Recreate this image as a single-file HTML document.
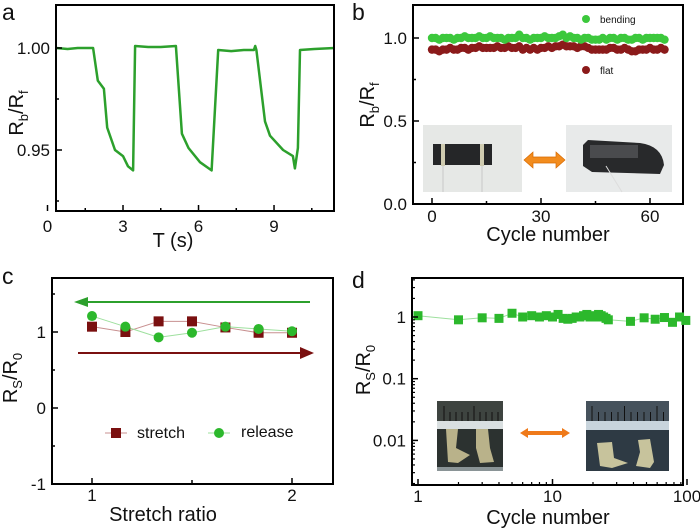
<!DOCTYPE html>
<html><head><meta charset="utf-8"><style>
body{margin:0;background:#fff;}
svg{display:block;font-family:"Liberation Sans",Arial,sans-serif;}
</style></head><body>
<svg id="fig" width="700" height="529" viewBox="0 0 700 529" xmlns="http://www.w3.org/2000/svg"></svg>
<script>
// ---- Panel a data ----
const aTime=[0.34,0.8,1.2,1.6,1.81,2.0,2.24,2.37,2.68,3.0,3.2,3.4,3.48,4.0,4.5,5.1,5.34,5.6,6.06,6.52,6.78,7.3,7.8,8.2,8.25,8.3,8.64,8.84,9.36,9.75,9.83,9.95,10.03,10.6,11.4];
const aVal=[1.0,0.9995,1.0,1.0,1.0,0.984,0.980,0.961,0.950,0.947,0.942,0.940,1.001,1.0005,1.0005,1.001,0.958,0.951,0.944,0.940,0.999,0.9985,0.999,0.999,1.001,0.999,0.964,0.957,0.950,0.947,0.941,0.951,0.999,0.9995,1.0];
const aXTicks=[0,3,6,9];
const aYTicks=[0.95,1.00];
// ---- Panel b data ----
const bCycles=[0,1,2,3,4,5,6,7,8,9,10,11,12,13,14,15,16,17,18,19,20,21,22,23,24,25,26,27,28,29,30,31,32,33,34,35,36,37,38,39,40,41,42,43,44,45,46,47,48,49,50,51,52,53,54,55,56,57,58,59,60,61,62,63,64];
const bBending=[1.0,1.0,0.99,1.0,1.0,1.0,0.99,1.0,1.0,1.01,1.0,1.0,1.0,1.01,1.0,1.0,1.01,1.0,1.0,1.0,0.99,1.0,1.0,1.0,1.02,1.0,1.0,0.99,1.0,1.0,1.0,1.01,1.0,1.0,1.0,1.01,1.02,1.0,1.01,1.0,1.0,0.99,1.0,1.0,0.99,0.99,0.99,1.0,0.99,1.0,1.0,0.99,1.0,1.0,0.99,0.99,1.0,1.0,0.99,1.0,1.0,1.0,1.0,1.0,0.99];
const bFlat=[0.93,0.93,0.92,0.93,0.93,0.94,0.93,0.93,0.94,0.94,0.93,0.94,0.94,0.95,0.94,0.94,0.94,0.94,0.95,0.94,0.94,0.95,0.94,0.94,0.95,0.93,0.94,0.93,0.94,0.93,0.94,0.94,0.95,0.94,0.95,0.95,0.96,0.95,0.95,0.95,0.94,0.95,0.95,0.94,0.93,0.93,0.93,0.93,0.93,0.94,0.94,0.93,0.93,0.94,0.93,0.92,0.92,0.93,0.93,0.93,0.94,0.93,0.93,0.94,0.93];
const bXTicks=[0,30,60];
const bYTicks=[0.0,0.5,1.0];
// ---- Panel c data ----
const cRatio=[1,1.167,1.333,1.5,1.667,1.833,2];
const cStretch=[1.07,1.0,1.14,1.14,1.06,0.99,0.99];
const cRelease=[1.21,1.07,0.93,0.99,1.07,1.04,1.01];
const cXTicks=[1,2];
const cYTicks=[-1,0,1];
// ---- Panel d data ----
const dCycles=[1,2,3,4,5,6,7,8,9,10,11,12,13,14,15,16,17,18,19,20,21,22,23,24,25,26,38,48,58,68,78,88,98];
const dRatio=[1.05,0.9,0.97,0.95,1.15,1.0,1.05,1.0,1.05,1.0,1.1,0.95,0.92,0.95,1.0,1.0,1.05,1.1,1.0,1.05,1.0,1.1,1.05,1.0,0.95,0.9,0.85,0.97,0.92,0.98,0.82,1.0,0.88];
const dXTicks=[1,10,100];
const dYTicks=[0.01,0.1,1];

const NS="http://www.w3.org/2000/svg";
const svg=document.getElementById('fig');
function mk(tag,attrs,parent){const e=document.createElementNS(NS,tag);for(const k in attrs)e.setAttribute(k,attrs[k]);(parent||svg).appendChild(e);return e;}
function txt(s,x,y,size,anchor,parent){const t=mk('text',{x:x,y:y,'font-size':size,'text-anchor':anchor||'middle',fill:'#111'},parent);t.textContent=s;return t;}

// ===== Panel a =====
const ga=mk('g',{});


const ax=t=>47.5+25.17*t, ay=v=>48+(1-v)*2040;
let p=aTime.map((t,i)=>ax(t).toFixed(1)+','+ay(aVal[i]).toFixed(1)).join(' ');
const la=mk('polyline',{points:p,fill:'none',stroke:'#2ca02c','stroke-width':2.5,'stroke-linejoin':'round'},ga);


mk('rect',{x:56,y:5,width:278,height:206,fill:'none',stroke:'#000','stroke-width':2},ga);
aXTicks.forEach(t=>{const l=txt(String(t),ax(t),232,17,'middle',ga);mk('line',{x1:ax(t),x2:ax(t),y1:211,y2:205,stroke:'#000','stroke-width':1.5},ga);});
[1.5,4.5,7.5,10.5].forEach(t=>mk('line',{x1:ax(t),x2:ax(t),y1:211,y2:208,stroke:'#000','stroke-width':1.5},ga));
aYTicks.forEach(v=>{const l=txt(v.toFixed(2),50,ay(v)+6,17,'end',ga);mk('line',{x1:56,x2:62,y1:ay(v),y2:ay(v),stroke:'#000','stroke-width':1.5},ga);});
[0.975,0.925].forEach(v=>mk('line',{x1:56,x2:59,y1:ay(v),y2:ay(v),stroke:'#000','stroke-width':1.5},ga));
let t1=txt('T (s)',173,247,20,'middle',ga);
let ya=mk('text',{x:0,y:0,'font-size':20,'text-anchor':'middle',fill:'#111',transform:'translate(23,113) rotate(-90)'},ga);
ya.innerHTML='R<tspan font-size="13" dy="5">b</tspan><tspan dy="-5">/R</tspan><tspan font-size="13" dy="5">f</tspan>';

let pa=txt('a',2,20,23,'start',ga);

// ===== Panel b =====
const gb=mk('g',{});


const bx=c=>432+c*(109/30), by=v=>204-166*v;
mk('rect',{x:413,y:5,width:270,height:199,fill:'none',stroke:'#000','stroke-width':2},gb);
bCycles.forEach((c,i)=>{const e=mk('circle',{cx:bx(c),cy:by(bFlat[i]),r:4.2,fill:'#8b1a1a'},gb);});
bCycles.forEach((c,i)=>{const e=mk('circle',{cx:bx(c),cy:by(bBending[i]),r:4.2,fill:'#3cc83c'},gb);});
bXTicks.forEach(c=>{const l=txt(String(c),bx(c),222,17,'middle',gb);mk('line',{x1:bx(c),x2:bx(c),y1:204,y2:198,stroke:'#000','stroke-width':1.5},gb);});
[15,45].forEach(c=>mk('line',{x1:bx(c),x2:bx(c),y1:204,y2:201,stroke:'#000','stroke-width':1.5},gb));
bYTicks.forEach(v=>{const l=txt(v.toFixed(1),407,by(v)+6,17,'end',gb);mk('line',{x1:413,x2:419,y1:by(v),y2:by(v),stroke:'#000','stroke-width':1.5},gb);});
[0.25,0.75].forEach(v=>mk('line',{x1:413,x2:416,y1:by(v),y2:by(v),stroke:'#000','stroke-width':1.5},gb));
let lb1=mk('circle',{cx:586,cy:19,r:4,fill:'#3cc83c'},gb);
let lt1=txt('bending',600,23,10,'start',gb);
let lb2=mk('circle',{cx:586,cy:70,r:4,fill:'#8b1a1a'},gb);
let lt2=txt('flat',600,74,10,'start',gb);
// photos
let ph1=mk('g',{},gb);
mk('rect',{x:423,y:125,width:99,height:67,fill:'#e6e8e6'},ph1);
mk('rect',{x:433,y:144,width:59,height:21,fill:'#252628'},ph1);
mk('rect',{x:441,y:144,width:4,height:22,fill:'#cfcbb0'},ph1);
mk('rect',{x:480,y:144,width:4,height:22,fill:'#cfcbb0'},ph1);
mk('line',{x1:443,y1:166,x2:443,y2:192,stroke:'#bbb','stroke-width':0.7},ph1);
mk('line',{x1:482,y1:166,x2:482,y2:192,stroke:'#bbb','stroke-width':0.7},ph1);
let ph2=mk('g',{},gb);
mk('rect',{x:566,y:125,width:106,height:67,fill:'#e8eaea'},ph2);
mk('path',{d:'M583 145 L588 140 L640 143 Q662 146 664 165 L660 174 L592 172 L583 166 Z',fill:'#28292b'},ph2);
mk('rect',{x:590,y:145,width:48,height:13,fill:'#4a4b4e'},ph2);
mk('line',{x1:606,y1:166,x2:622,y2:192,stroke:'#ddd','stroke-width':1},ph2);
let arb=mk('path',{d:'M524 160 L533 152 L533 157 L556 157 L556 152 L565 160 L556 168 L556 163 L533 163 L533 168 Z',fill:'#f28c1e',stroke:'#d86a00','stroke-width':0.7},gb);

let t2=txt('Cycle number',548,241,20,'middle',gb);
let yb=mk('text',{x:0,y:0,'font-size':20,'text-anchor':'middle',fill:'#111',transform:'translate(374,105) rotate(-90)'},gb);
yb.innerHTML='R<tspan font-size="13" dy="5">b</tspan><tspan dy="-5">/R</tspan><tspan font-size="13" dy="5">f</tspan>';

let pb=txt('b',352,20,23,'start',gb);

// ===== Panel c =====
const gc=mk('g',{});


const cx=r=>92+200*(r-1), cy=v=>408-76*v;
mk('rect',{x:52,y:278,width:281,height:206,fill:'none',stroke:'#000','stroke-width':2},gc);
mk('polyline',{points:cRatio.map((r,i)=>cx(r)+','+cy(cStretch[i])).join(' '),fill:'none',stroke:'#c89090','stroke-width':1},gc);
mk('polyline',{points:cRatio.map((r,i)=>cx(r)+','+cy(cRelease[i])).join(' '),fill:'none',stroke:'#9ee09e','stroke-width':1},gc);
cRatio.forEach((r,i)=>{const e=mk('rect',{x:cx(r)-5,y:cy(cStretch[i])-5,width:10,height:10,fill:'#7a1010'},gc);});
cRatio.forEach((r,i)=>{const e=mk('circle',{cx:cx(r),cy:cy(cRelease[i]),r:5,fill:'#2cb82c'},gc);});
let ga1=mk('path',{d:'M310 301 L88 301 L88 297 L74 302 L88 307 L88 303 L310 303 Z',fill:'#2ca02c'},gc);
let ga2=mk('path',{d:'M78 352 L300 352 L300 347 L314 353 L300 359 L300 354 L78 354 Z',fill:'#7a1010'},gc);
cXTicks.forEach(r=>{const l=txt(String(r),cx(r),501,17,'middle',gc);mk('line',{x1:cx(r),x2:cx(r),y1:484,y2:478,stroke:'#000','stroke-width':1.5},gc);});
mk('line',{x1:cx(1.5),x2:cx(1.5),y1:484,y2:480,stroke:'#000','stroke-width':1.5},gc);
cYTicks.forEach(v=>{const l=txt(String(v),46,cy(v)+6,17,'end',gc);mk('line',{x1:52,x2:58,y1:cy(v),y2:cy(v),stroke:'#000','stroke-width':1.5},gc);});
[-0.5,0.5,1.5].forEach(v=>mk('line',{x1:52,x2:55,y1:cy(v),y2:cy(v),stroke:'#000','stroke-width':1.5},gc));
mk('line',{x1:105,x2:127,y1:433,y2:433,stroke:'#c89090','stroke-width':1},gc);
let lc1=mk('rect',{x:111,y:428,width:10,height:10,fill:'#7a1010'},gc);
let lct1=txt('stretch',137,438,16,'start',gc);
mk('line',{x1:208,x2:230,y1:433,y2:433,stroke:'#9ee09e','stroke-width':1},gc);
let lc2=mk('circle',{cx:219,cy:433,r:5,fill:'#2cb82c'},gc);
let lct2=txt('release',241,437,16,'start',gc);
let t3=txt('Stretch ratio',163,521,20,'middle',gc);
let yc=mk('text',{x:0,y:0,'font-size':20,'text-anchor':'middle',fill:'#111',transform:'translate(17,378) rotate(-90)'},gc);
yc.innerHTML='R<tspan font-size="13" dy="5">S</tspan><tspan dy="-5">/R</tspan><tspan font-size="13" dy="5">0</tspan>';

let pc=txt('c',2,284,23,'start',gc);

// ===== Panel d =====
const gd=mk('g',{});


const dx=c=>418+134.5*Math.log10(c), dy=v=>317-61.7*Math.log10(v);
mk('rect',{x:412,y:278,width:271,height:207,fill:'none',stroke:'#000','stroke-width':2},gd);
mk('polyline',{points:dCycles.map((c,i)=>dx(c).toFixed(1)+','+dy(dRatio[i]).toFixed(1)).join(' '),fill:'none',stroke:'#9ee09e','stroke-width':1},gd);
dCycles.forEach((c,i)=>{const e=mk('rect',{x:dx(c)-4.5,y:dy(dRatio[i])-4.5,width:9,height:9,fill:'#2cb82c'},gd);});
dXTicks.forEach(c=>{const l=txt(String(c),dx(c),502,17,'middle',gd);mk('line',{x1:dx(c),x2:dx(c),y1:485,y2:479,stroke:'#000','stroke-width':1.5},gd);});
for(let d=0;d<2;d++)for(let k=2;k<10;k++){const c=k*Math.pow(10,d);mk('line',{x1:dx(c),x2:dx(c),y1:485,y2:482,stroke:'#000','stroke-width':1.2},gd);}
dYTicks.forEach(v=>{const l=txt(String(v),406,dy(v)+6,17,'end',gd);mk('line',{x1:412,x2:418,y1:dy(v),y2:dy(v),stroke:'#000','stroke-width':1.5},gd);});
for(let d=-3;d<1;d++)for(let k=2;k<10;k++){const v=k*Math.pow(10,d);const y=dy(v);if(y>279&&y<484)mk('line',{x1:412,x2:415,y1:y,y2:y,stroke:'#000','stroke-width':1.2},gd);}
let pd1=mk('g',{},gd);
mk('rect',{x:437,y:401,width:66,height:70,fill:'#2c3230'},pd1);
mk('rect',{x:437,y:401,width:66,height:20,fill:'#3e4440'},pd1);
for(let i=0;i<10;i++)mk('line',{x1:444+i*6,x2:444+i*6,y1:(i%5==0?406:412),y2:421,stroke:'#111','stroke-width':1},pd1);
mk('rect',{x:437,y:421,width:66,height:8,fill:'#d9dfe0'},pd1);
mk('path',{d:'M446 429 L458 429 L456 448 L470 455 L458 463 L448 462 Z',fill:'#b9b28a'},pd1);
mk('path',{d:'M476 429 L488 429 L490 448 L494 462 L480 463 L476 448 Z',fill:'#b9b28a'},pd1);
mk('rect',{x:437,y:467,width:66,height:4,fill:'#8a9496'},pd1);
let pd2=mk('g',{},gd);
mk('rect',{x:586,y:401,width:83,height:70,fill:'#2e3a44'},pd2);
mk('rect',{x:586,y:401,width:83,height:20,fill:'#46525c'},pd2);
for(let i=0;i<12;i++)mk('line',{x1:592+i*6.5,x2:592+i*6.5,y1:(i%5==0?406:412),y2:421,stroke:'#111','stroke-width':1},pd2);
mk('rect',{x:586,y:421,width:83,height:9,fill:'#c8d4dc'},pd2);
mk('path',{d:'M597 443 L612 442 L614 458 L628 463 L612 468 L600 466 Z',fill:'#c7c39c'},pd2);
mk('path',{d:'M638 440 L650 439 L654 462 L650 468 L636 466 L640 452 Z',fill:'#c7c39c'},pd2);
let ard=mk('path',{d:'M520 433 L528 428 L528 431 L562 431 L562 428 L570 433 L562 438 L562 435 L528 435 L528 438 Z',fill:'#ef7a1a'},gd);

let t4=txt('Cycle number',548,524,20,'middle',gd);
let yd=mk('text',{x:0,y:0,'font-size':20,'text-anchor':'middle',fill:'#111',transform:'translate(370,370) rotate(-90)'},gd);
yd.innerHTML='R<tspan font-size="13" dy="5">S</tspan><tspan dy="-5">/R</tspan><tspan font-size="13" dy="5">0</tspan>';

let pdl=txt('d',352,288,23,'start',gd);
</script>
</body></html>
